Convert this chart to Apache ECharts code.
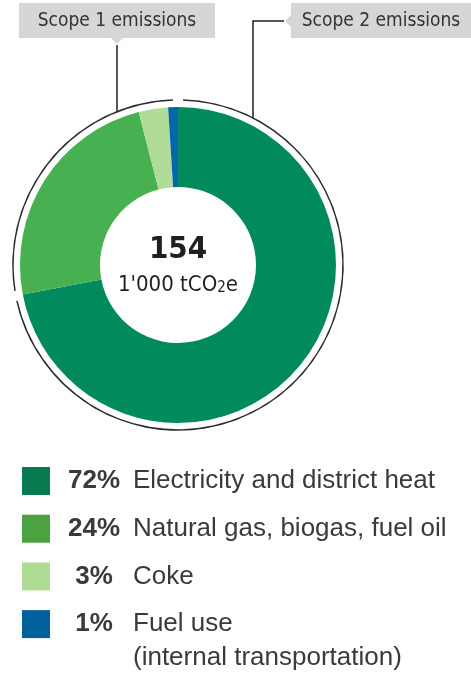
<!DOCTYPE html>
<html>
<head>
<meta charset="utf-8">
<script src="https://cdn.jsdelivr.net/npm/echarts@6/dist/echarts.min.js"></script>
<style>
	html, body { margin: 0; padding: 0; background: #fff; }
	#main { width: 471px; height: 673px; }
</style>
</head>
<body>
<div id="main"></div>
<script>
// 数据
var names = ['Electricity and district heat', 'Natural gas, biogas, fuel oil', 'Coke', 'Fuel use'];
var values = [72, 24, 3, 1];
var pieColors = ['#008a5e', '#47b050', '#b0dc98', '#0068a8'];
var legendColors = ['#0a7a50', '#4aa240', '#aedc94', '#00609c'];
var scopeNames = ['Scope 2 emissions', 'Scope 1 emissions'];
var scopeGroups = [[0], [1, 2, 3]];	// 每个范围包含的类别
var totalValue = '154';
var totalUnit = '1\'000 tCO{sub|2}e';

function showEmissionEchart(id){
	var chart = echarts.init(document.getElementById(id));
	var pieData = names.map(function (n, i) {
		return { name : n, value : values[i], itemStyle : { color : pieColors[i] } };
	});
	var scopeData = scopeNames.map(function (n, i) {
		var sum = 0;
		scopeGroups[i].forEach(function (k) { sum += values[k]; });
		return { name : n, value : sum };
	});
	var labelFont = '"DejaVu Sans Condensed", "DejaVu Sans", sans-serif';
	var legendFont = '"Liberation Sans", Arial, sans-serif';
	var option = {
		animation : false,
		legend : {
			orient : 'vertical',
			left : 22,
			top : 467,
			padding : 0,
			itemWidth : 28,
			itemHeight : 28,
			itemGap : 19.7,
			itemTextGap : 20,
			icon : 'rect',
			selectedMode : false,
			data : names.map(function (n, i) {
				return { name : n, itemStyle : { color : legendColors[i] } };
			}),
			formatter : function (name) {
				var i = names.indexOf(name);
				return '{p|' + values[i] + '%}' + name;
			},
			textStyle : {
				color : '#3a3a3a',
				fontSize : 26,
				lineHeight : 28,
				fontFamily : legendFont,
				rich : {
					p : {
						width : 78,
						align : 'right',
						fontWeight : 'bold',
						fontSize : 26,
						lineHeight : 28,
						color : '#3a3a3a',
						fontFamily : legendFont
					}
				}
			}
		},
		graphic : {
			elements : [
				// 中心文字
				{
					type : 'text',
					x : 178, y : 250,
					style : {
						text : totalValue,
						align : 'center', verticalAlign : 'middle',
						font : 'bold 31px ' + labelFont,
						fill : '#231f20'
					}
				},
				{
					type : 'text',
					x : 178, y : 285,
					style : {
						text : totalUnit,
						align : 'center', verticalAlign : 'middle',
						font : '22px ' + labelFont,
						fill : '#231f20',
						rich : {
							sub : { fontSize : 15, fontFamily : '"DejaVu Sans Condensed", sans-serif', padding : [6, 0, 0, 0] }
						}
					}
				},
				// Scope 1 标签
				{ type : 'rect', shape : { x : 19, y : 3, width : 196, height : 35 }, style : { fill : '#d6d6d6' } },
				{ type : 'polygon', shape : { points : [[111, 38], [123, 38], [117, 44]] }, style : { fill : '#d6d6d6' } },
				{ type : 'text', x : 117, y : 21, style : { text : scopeNames[1], align : 'center', verticalAlign : 'middle', font : '19px ' + labelFont, fill : '#333333' } },
				{ type : 'polyline', shape : { points : [[117, 45], [117, 112]] }, style : { stroke : '#231f20', lineWidth : 1.5, fill : null } },
				// Scope 2 标签
				{ type : 'rect', shape : { x : 291, y : 3, width : 180, height : 35 }, style : { fill : '#d6d6d6' } },
				{ type : 'polygon', shape : { points : [[291, 15], [291, 27], [285, 21]] }, style : { fill : '#d6d6d6' } },
				{ type : 'text', x : 381, y : 21, style : { text : scopeNames[0], align : 'center', verticalAlign : 'middle', font : '19px ' + labelFont, fill : '#333333' } },
				{ type : 'polyline', shape : { points : [[284, 21], [253, 21], [253, 118]] }, style : { stroke : '#231f20', lineWidth : 1.5, fill : null } },
				// 第二行图例文字
				{ type : 'text', x : 133, y : 658, style : { text : '(internal transportation)', verticalAlign : 'middle', font : '26px ' + legendFont, fill : '#3a3a3a' } }
			]
		},
		series : [ {
			name : 'emissions',
			type : 'pie',
			center : [ 178, 265 ],
			radius : [ 78, 158 ],
			startAngle : 90,
			clockwise : true,
			silent : true,
			label : { show : false },
			labelLine : { show : false },
			data : pieData
		}, {
			name : 'scope',
			type : 'pie',
			center : [ 178, 265 ],
			radius : [ 164.3, 165.8 ],
			startAngle : 90,
			padAngle : 3.5,
			silent : true,
			label : { show : false },
			labelLine : { show : false },
			itemStyle : { color : '#2b2b2b' },
			data : scopeData
		} ]
	};
	chart.setOption(option);
}
showEmissionEchart('main');
</script>
</body>
</html>
